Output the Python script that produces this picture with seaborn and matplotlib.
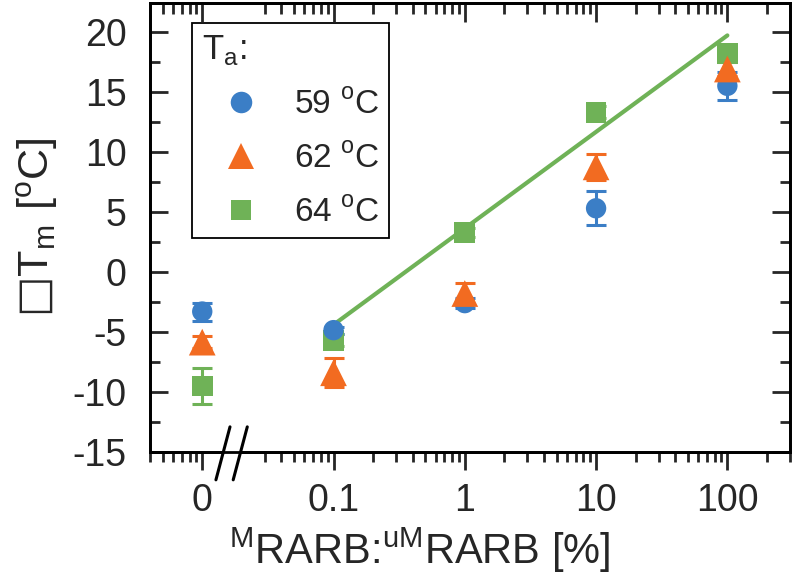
import matplotlib
matplotlib.use("Agg")
import matplotlib.pyplot as plt
import numpy as np
import pandas as pd
import seaborn as sns
from matplotlib.lines import Line2D
from matplotlib.patches import Rectangle
from matplotlib.ticker import FixedLocator, FixedFormatter, NullFormatter, MultipleLocator

# data
ratio_pct = [0, 0.1, 1, 10, 100]          # MRARB:uMRARB [%]
zero_pos = 0.01                            # where "0" sits on the broken log axis
temps = ["59 °C", "62 °C", "64 °C"]
dtm_59 = [-3.3, -4.85, -2.6, 5.3, 15.5]
err_59 = [0.75, 0.3, 0.4, 1.4, 1.15]
dtm_62 = [-5.85, -8.4, -1.8, 8.75, 16.9]
err_62 = [0.5, 1.2, 0.9, 1.1, 0.6]
dtm_64 = [-9.5, -5.7, 3.3, 13.3, 18.2]
err_64 = [1.5, 0.5, 0.4, 0.5, 0.6]
fit_x = [0.1, 100]
fit_y = [-4.4, 19.7]
x_ticks = [0.01, 0.1, 1, 10, 100]
x_ticklabels = ["0", "0.1", "1", "10", "100"]

colors = {"59 °C": "#3b7ec6", "62 °C": "#f26b21", "64 °C": "#6fb257"}
markers = {"59 °C": "o", "62 °C": "^", "64 °C": "s"}
sizes = {"59 °C": 215, "62 °C": 370, "64 °C": 225}
legend_ms = {"59 °C": 15.5, "62 °C": 19.0, "64 °C": 15.0}
legend_labels = {"59 °C": "59 $^\\mathregular{o}$C",
                 "62 °C": "62 $^\\mathregular{o}$C",
                 "64 °C": "64 $^\\mathregular{o}$C"}

sns.set_theme(style="ticks")
plt.rcParams["font.family"] = ["Liberation Sans", "DejaVu Sans"]
plt.rcParams["axes.unicode_minus"] = False
plt.rcParams["mathtext.fontset"] = "custom"
plt.rcParams["mathtext.rm"] = "Liberation Sans"
plt.rcParams["mathtext.sf"] = "DejaVu Sans"

series = {"59 °C": (dtm_59, err_59), "62 °C": (dtm_62, err_62), "64 °C": (dtm_64, err_64)}
x_plot = [zero_pos if v == 0 else v for v in ratio_pct]

# green drawn first, orange last (matches overlap in reference)
draw_order = ["64 °C", "59 °C", "62 °C"]
rows = []
for t in draw_order:
    vals, errs = series[t]
    for xv, yv, ev in zip(x_plot, vals, errs):
        rows.append({"ratio": xv, "dtm": yv, "err": ev, "temp": t})
df = pd.DataFrame(rows)

fig = plt.figure(figsize=(8, 5.77), dpi=100)
ax = fig.add_axes([150 / 800, 1 - 452 / 577, 640 / 800, 449 / 577])

sns.lineplot(x=fit_x, y=fit_y, color=colors["64 °C"], linewidth=3.0, ax=ax, zorder=1)

for t in draw_order:
    sub = df[df["temp"] == t]
    ax.errorbar(sub["ratio"], sub["dtm"], yerr=sub["err"], fmt="none",
                ecolor=colors[t], elinewidth=2.2, capsize=7.5, capthick=2.2, zorder=2)

sns.scatterplot(data=df, x="ratio", y="dtm", hue="temp", style="temp", size="temp",
                palette=colors, markers=markers, sizes=sizes, linewidth=0,
                legend=False, ax=ax, zorder=3)

ax.set_xscale("log")
ax.set_xlim(0.004, 300)
ax.set_ylim(-15, 22.4)

minor = [m * 10.0 ** e for e in range(-3, 3) for m in range(2, 10)]
minor = [v for v in minor if 0.004 <= v <= 300 and not np.isclose(v, 0.02)]

ax.xaxis.set_major_locator(FixedLocator(x_ticks))
ax.xaxis.set_major_formatter(FixedFormatter(x_ticklabels))
ax.xaxis.set_minor_locator(FixedLocator(minor))
ax.xaxis.set_minor_formatter(NullFormatter())
ax.yaxis.set_major_locator(MultipleLocator(5))
ax.yaxis.set_minor_locator(MultipleLocator(2.5))

ax.tick_params(axis="x", which="both", direction="out", top=False, width=2, labelsize=27, pad=9)
ax.tick_params(axis="x", which="major", length=13)
ax.tick_params(axis="x", which="minor", length=7)
ax.tick_params(axis="y", which="both", direction="in", left=True, right=True, width=2,
               labelsize=27, pad=17)
ax.tick_params(axis="y", which="major", length=13)
ax.tick_params(axis="y", which="minor", length=7)

top = ax.twiny()
top.set_xscale("log")
top.set_xlim(ax.get_xlim())
top.xaxis.set_major_locator(FixedLocator(x_ticks))
top.xaxis.set_minor_locator(FixedLocator(minor))
top.xaxis.set_major_formatter(NullFormatter())
top.xaxis.set_minor_formatter(NullFormatter())
top.tick_params(axis="x", which="both", direction="in", width=2)
top.tick_params(axis="x", which="major", length=14)
top.tick_params(axis="x", which="minor", length=8)

for a in (ax, top):
    for s in a.spines.values():
        s.set_linewidth(2)
        s.set_color("black")

ax.set_xlabel("$^\\mathregular{M}$RARB:$^\\mathregular{uM}$RARB [%]", fontsize=30)
ax.xaxis.set_label_coords(0.422, -0.165)
ax.set_ylabel("$\\mathsf{\u25a1}\\mathregular{T_m\\ [^oC]}$", fontsize=31)
ax.yaxis.set_label_coords(-0.14, 0.5)

# axis break on the bottom spine
ax.add_patch(Rectangle((0.114, -0.012), 0.027, 0.024, transform=ax.transAxes,
                       facecolor="white", edgecolor="none", clip_on=False, zorder=5))
for x0 in (0.103, 0.130):
    ax.plot([x0, x0 + 0.022], [-0.062, 0.056], transform=ax.transAxes, color="black",
            linewidth=2.2, clip_on=False, zorder=6)

handles = [Line2D([], [], linestyle="none", marker=markers[t], color=colors[t],
                  markeredgewidth=0, markersize=legend_ms[t]) for t in temps]
leg = ax.legend(handles, [legend_labels[t] for t in temps], title="T$_\\mathregular{a}$:",
                loc="upper left", bbox_to_anchor=(0.066, 0.955), borderaxespad=0,
                fontsize=24, title_fontsize=25, alignment="left", frameon=True,
                fancybox=False, framealpha=1, edgecolor="black", handletextpad=0.45,
                labelspacing=0.68, handlelength=2.3, borderpad=0.3)
leg.get_frame().set_linewidth(1.3)

fig.savefig("out.png", dpi=100)
